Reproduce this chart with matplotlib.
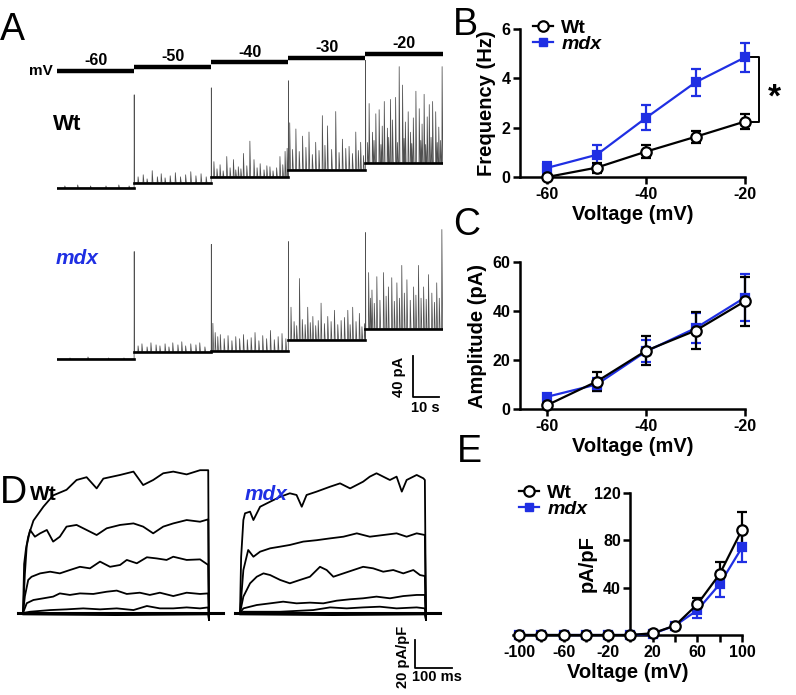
import matplotlib
matplotlib.use('Agg')
import matplotlib.pyplot as plt
from matplotlib.lines import Line2D

plt.rcParams['font.family'] = ['Liberation Sans', 'DejaVu Sans']
plt.rcParams['font.weight'] = 'bold'
plt.rcParams['axes.labelweight'] = 'bold'
plt.rcParams['axes.unicode_minus'] = False

W, H = 796, 695
BLUE = '#1f2fe3'

### Panel B - event frequency
volt_b = [-60, -50, -40, -30, -20]
wt_freq = [0.0, 0.38, 1.03, 1.63, 2.25]
wt_freq_err = [0.05, 0.2, 0.25, 0.25, 0.3]
mdx_freq = [0.37, 0.9, 2.4, 3.84, 4.85]
mdx_freq_err = [0.25, 0.4, 0.5, 0.55, 0.6]

### Panel C - event amplitude
wt_amp = [1.6, 11.2, 23.8, 32.0, 44.0]
wt_amp_err = [1.0, 3.7, 6.0, 7.7, 10.0]
mdx_amp = [5.0, 10.0, 23.5, 33.0, 45.5]
mdx_amp_err = [1.0, 2.5, 4.5, 6.0, 9.5]

### Panel E - current density
volt_e = [-100, -80, -60, -40, -20, 0, 20, 40, 60, 80, 100]
wt_dens = [0, 0, 0, 0, 0, 0, 1.5, 8, 26, 51.5, 89]
wt_dens_err = [0, 0, 0, 0, 0, 0, 0.5, 1.5, 5.5, 10.5, 15]
mdx_dens = [0, 0, 0, 0, 0, 0, 1, 8, 21, 43, 74]
mdx_dens_err = [0, 0, 0, 0, 0, 0, 0.5, 1.5, 6.5, 10.5, 12]

### Panel A - holding steps and recorded currents (s, pA)
cmd_mv = [-60, -50, -40, -30, -20]
seg_len = 30
wt_base = [0, 4.9, 10.7, 17.6, 24.4]
wt_trans = [0, 86, 87, 87, 100]
wt_spk_t = [
    [3, 8, 13, 19, 24, 28],
    [1.5, 3.5, 5, 7, 9, 10.5, 12, 14, 16, 18, 20, 22, 24, 26, 28],
    [1.0, 2.2, 3.4, 4.6, 6.0, 7.3, 8.6, 9.5, 10.5, 11.5, 12.5, 13.8, 15.0, 16.6,
     17.8, 19.0, 20.5, 21.6, 22.8, 24.0, 25.4, 26.7, 27.8, 28.7, 29.5],
    [0.5, 1.6, 2.9, 4.2, 5.5, 6.8, 8.0, 9.3, 10.6, 11.9, 13.2, 14.2, 15.2, 16.8,
     18.4, 19.7, 21.0, 22.3, 23.6, 24.9, 26.2, 27.2, 28.1, 29.2],
    [0.8, 1.4, 2.7, 3.3, 4.0, 5.3, 6.0, 6.5, 7.3, 8.5, 9.0, 9.7, 10.5, 11.7, 12.4,
     13.1, 14.4, 15.0, 15.5, 16.6, 17.5, 18.0, 18.6, 19.6, 20.9, 21.5, 22.0, 22.8,
     23.4, 24.0, 24.8, 25.5, 26.1, 27.3, 27.9, 28.5, 29.2, 29.8],
]
wt_spk_a = [
    [2, 3, 2, 2, 3, 2],
    [6, 8, 4, 12, 6, 9, 5, 7, 10, 6, 8, 11, 7, 9, 6],
    [15, 8, 12, 6, 20, 9, 17, 7, 10, 8, 23, 11, 35, 17, 9, 13, 7, 11, 10, 6, 9,
     20, 12, 25, 28],
    [46, 20, 40, 18, 33, 22, 37, 15, 27, 19, 53, 24, 43, 20, 57, 17, 30, 21, 23,
     16, 37, 19, 27, 14],
    [20, 58, 30, 22, 48, 52, 18, 36, 60, 34, 25, 62, 42, 64, 20, 94, 76, 24, 40,
     50, 30, 19, 44, 70, 53, 22, 38, 67, 18, 45, 57, 25, 60, 50, 20, 35, 22, 94],
]
mdx_base = [0, 6.8, 7.8, 18.5, 29.3]
mdx_trans = [0, 98, 104, 96, 94]
mdx_spk_t = [
    [5, 12, 20, 26],
    [1.5, 3, 5, 6.5, 8.5, 10, 12, 13.5, 15, 17, 18.5, 20, 22, 24, 25.5, 27.5],
    [0.6, 1.5, 2.5, 3.5, 5, 6.5, 8, 9.5, 11, 12.5, 14, 15.5, 17, 18.5, 20, 21.5,
     23, 24.5, 26, 27.5, 29],
    [1.0, 2.2, 3.2, 4.3, 5.4, 6.5, 7.5, 8.5, 9.5, 10.6, 11.6, 12.7, 14.0, 15.3,
     16.6, 17.9, 19.2, 20.5, 21.8, 23.1, 24.0, 25.0, 26.3, 27.6, 28.6, 29.6],
    [1.2, 1.9, 2.5, 3.4, 4.4, 5.6, 7.0, 8.0, 8.9, 10.2, 11.2, 12.2, 13.2, 14.1,
     15.1, 16.1, 17.4, 18.7, 19.6, 20.6, 21.6, 22.6, 23.6, 24.5, 25.8, 26.8, 27.7,
     28.7, 29.7],
]
mdx_spk_a = [
    [1, 2, 1, 1],
    [6, 8, 5, 9, 7, 6, 8, 5, 9, 7, 10, 6, 8, 7, 9, 5],
    [27, 18, 14, 16, 12, 15, 10, 14, 12, 16, 11, 13, 18, 10, 15, 12, 20, 11, 14,
     17, 12],
    [32, 18, 14, 60, 20, 15, 32, 17, 23, 14, 19, 36, 16, 23, 18, 29, 15, 19, 22,
     29, 15, 32, 18, 26, 13, 16],
    [55, 30, 38, 25, 51, 28, 55, 32, 41, 50, 27, 45, 30, 62, 35, 48, 28, 41, 33,
     62, 30, 41, 29, 53, 35, 26, 45, 30, 97],
]

### Panel D - whole-cell current families (ms, pA/pF)
wt_fam_t = [
    [0, 3, 8, 14, 28, 55, 81, 117, 144, 171, 198, 216, 261, 297, 323, 350, 377, 404, 440, 476, 498],
    [0, 5, 10, 19, 32, 46, 64, 81, 99, 117, 144, 171, 198, 225, 261, 297, 323, 350, 377, 404, 440, 476, 498],
    [0, 5, 14, 23, 46, 73, 99, 126, 153, 180, 207, 234, 261, 279, 306, 333, 359, 386, 404, 440, 476, 498],
    [0, 10, 28, 55, 81, 99, 126, 153, 189, 225, 252, 279, 314, 341, 368, 404, 440, 476, 498],
    [0, 19, 73, 117, 162, 207, 252, 297, 333, 368, 404, 440, 476, 498],
    [0, 250, 498],
]
wt_fam_i = [
    [0, 35, 46, 54.5, 66, 76, 84, 88, 95, 97, 89, 96, 98.6, 101, 91.4, 95, 99.8, 101, 99, 102, 102],
    [0, 28, 48, 59.3, 54.5, 56.9, 59.3, 51, 54.5, 61.7, 62.9, 59.3, 55.7, 60.5, 62.9, 64, 61.7, 56.9, 61.7, 64, 66.4, 65.2, 66.9],
    [0, 12, 23.6, 25.9, 28.3, 29.5, 28.3, 30.7, 33, 31.9, 36.7, 33, 34.3, 37.9, 35.5, 39.8, 39, 37.9, 40.2, 37.9, 38.3, 34.3],
    [0, 7, 9.3, 10.5, 11.7, 14, 12.9, 14, 13.6, 15.2, 16, 13.6, 14.5, 12.9, 14.5, 12.1, 14.5, 13.6, 14],
    [0, 0.9, 2.1, 2.6, 3.3, 2.6, 3.3, 2.1, 5, 3.3, 3.3, 4, 3.3, 4],
    [-1, -1.5, -1],
]
mdx_fam_t = [
    [0, 3, 9, 13.4, 27, 36, 54, 81, 108, 134, 152, 166, 179, 206, 242, 269, 296, 331, 349, 367, 385, 403, 421, 435, 448, 475, 493, 497],
    [0, 9, 22, 36, 54, 81, 108, 134, 170, 206, 242, 278, 314, 349, 385, 421, 448, 475, 497],
    [0, 9, 27, 45, 63, 81, 108, 134, 161, 188, 215, 233, 251, 278, 305, 331, 358, 385, 412, 439, 466, 484, 497],
    [0, 9, 45, 81, 116, 152, 188, 224, 260, 296, 331, 367, 403, 439, 475, 497],
    [0, 9, 108, 197, 242, 287, 331, 376, 421, 475, 497],
    [0, 250, 497],
]
mdx_fam_i = [
    [0, 40, 66.4, 71.2, 72.4, 66.4, 75.9, 79.5, 83, 85.5, 84.3, 75.9, 84.3, 86.7, 90.2, 92.6, 89, 93.8, 97.4, 99.8, 97.4, 95, 97.4, 86.7, 95, 98.6, 96.2, 95],
    [0, 30.7, 45, 40.2, 43.8, 46.2, 47.4, 48.6, 51, 52, 53.3, 54.5, 56.9, 54.5, 55.7, 56.9, 54.5, 56.9, 55.7],
    [0, 11.7, 21.2, 25.9, 28.3, 27.1, 23.6, 21.2, 23.6, 25.9, 33, 30.7, 25.9, 28.3, 30.7, 33, 31.9, 29.5, 30.7, 28.3, 30.7, 27.1, 26.4],
    [0, 3.3, 5.7, 6.9, 8.1, 6.9, 7.4, 6.9, 8.8, 9.8, 10.5, 11.7, 10.5, 12.1, 12.9, 12.9],
    [0, 0.9, 0.9, 2.1, 4, 3.3, 4, 4.5, 3.3, 4, 3.3],
    [-1, -1.5, -1],
]
pulse_end = 500

fig = plt.figure(figsize=(W / 100, H / 100), dpi=100)


def box(x0, y0, x1, y1):
    # pixel box (top-left origin) -> figure fraction rect
    return [x0 / W, 1 - y1 / H, (x1 - x0) / W, (y1 - y0) / H]


def ftext(x, y, s, **kw):
    fig.text(x / W, 1 - y / H, s, **kw)


def prism(ax):
    ax.spines[['top', 'right']].set_visible(False)
    for s in ['left', 'bottom']:
        ax.spines[s].set_linewidth(1.8)
    ax.tick_params(width=1.8, length=5, labelsize=11.5, pad=2)
    ax.patch.set_alpha(0)


def series(ax, x, y, err, color, marker, mfc, ms):
    c = ax.errorbar(x, y, yerr=err, color=color, marker=marker, mfc=mfc,
                    mec=color, ms=ms, mew=1.6, lw=1.6, elinewidth=1.6,
                    capsize=3.5, capthick=1.6, zorder=3)
    for a in c.get_children():
        a.set_clip_on(False)


def legend(ax, x, y):
    h_wt = Line2D([], [], color='k', marker='o', mfc='white', ms=7.5, mew=1.6, lw=1.6)
    h_mdx = Line2D([], [], color=BLUE, marker='s', ms=6, lw=1.6)
    leg = ax.legend([h_wt, h_mdx], ['Wt', 'mdx'], loc='upper left',
                    bbox_to_anchor=(x / W, 1 - y / H), bbox_transform=fig.transFigure,
                    frameon=False, fontsize=14, handlelength=1.05, handletextpad=0.4,
                    borderpad=0, borderaxespad=0, labelspacing=-0.05)
    leg.get_texts()[1].set_style('italic')


def build_trace(base, trans, spk_t, spk_a):
    xs, ys = [], []
    for i in range(len(base)):
        t0 = i * seg_len
        b = base[i]
        xs += [t0]
        ys += [b]
        if trans[i] > 0:
            xs += [t0 + 0.05, t0 + 0.15]
            ys += [b + trans[i], b]
        for t, a in sorted(zip(spk_t[i], spk_a[i])):
            xs += [t0 + t - 0.05, t0 + t + 0.05, t0 + t + 0.35]
            ys += [b, b + a, b]
        xs += [t0 + seg_len]
        ys += [b]
    return xs, ys


### Panel A
ax_cmd = fig.add_axes(box(57, 51.7, 442.5, 77.5))
ax_cmd.set_xlim(0, 150)
ax_cmd.set_ylim(-75, -15)
ax_cmd.axis('off')
for i, mv in enumerate(cmd_mv):
    t0, t1 = i * seg_len, (i + 1) * seg_len
    ax_cmd.plot([t0, t1], [mv, mv], color='k', lw=3.2, solid_capstyle='butt', clip_on=False)
    ax_cmd.annotate(str(mv), ((t0 + t1) / 2, mv), xytext=(0, 2), textcoords='offset points',
                    ha='center', va='bottom', fontsize=11.5)
ax_cmd.annotate('mV', (0, cmd_mv[0]), xytext=(-3, 0), textcoords='offset points',
                ha='right', va='center', fontsize=11)

for base, trans, st, sa, yb in [(wt_base, wt_trans, wt_spk_t, wt_spk_a, 188),
                                (mdx_base, mdx_trans, mdx_spk_t, mdx_spk_a, 359)]:
    ax = fig.add_axes(box(57, yb - 153.75, 442.5, yb + 10.25))
    ax.set_xlim(0, 150)
    ax.set_ylim(-10, 150)
    ax.axis('off')
    xs, ys = build_trace(base, trans, st, sa)
    ax.plot(xs, ys, color='#505050', lw=0.55)
    for i, b in enumerate(base):
        ax.plot([i * seg_len, (i + 1) * seg_len], [b, b], color='k', lw=1.9)
ax_mdx_a = ax
ax_mdx_a.plot([138.5, 138.5, 148.5], [3, -37, -37], color='k', lw=1.3, clip_on=False)
ax_mdx_a.text(133, -17, '40 pA', rotation=90, ha='center', va='center', fontsize=10.5)
ax_mdx_a.text(143.5, -48, '10 s', ha='center', va='center', fontsize=10.5)

ftext(53, 130, 'Wt', fontsize=16)
ftext(56, 264, 'mdx', fontsize=15, style='italic', color=BLUE)

### Panel B
ax_b = fig.add_axes(box(520, 29, 745, 177))
prism(ax_b)
series(ax_b, volt_b, mdx_freq, mdx_freq_err, BLUE, 's', BLUE, 6)
series(ax_b, volt_b, wt_freq, wt_freq_err, 'k', 'o', 'white', 7.5)
ax_b.set_xlim(-65.5, -20)
ax_b.set_ylim(0, 6)
ax_b.set_xticks([-60, -40, -20])
ax_b.set_yticks([0, 2, 4, 6])
ax_b.set_xlabel('Voltage (mV)', fontsize=14.5, labelpad=2)
ax_b.set_ylabel('Frequency (Hz)', fontsize=14.5, labelpad=4)
ax_b.plot([-18.7, -17.2, -17.2, -18.7], [mdx_freq[-1], mdx_freq[-1], wt_freq[-1], wt_freq[-1]],
          color='k', lw=1.4, clip_on=False)
ax_b.text(-14.0, (mdx_freq[-1] + wt_freq[-1]) / 2 - 0.35, '*', ha='center', va='center', fontsize=24)
legend(ax_b, 533, 19)

### Panel C
ax_c = fig.add_axes(box(520, 262, 745, 409))
prism(ax_c)
series(ax_c, volt_b, mdx_amp, mdx_amp_err, BLUE, 's', BLUE, 6)
series(ax_c, volt_b, wt_amp, wt_amp_err, 'k', 'o', 'white', 7.5)
ax_c.set_xlim(-65.5, -20)
ax_c.set_ylim(0, 60)
ax_c.set_xticks([-60, -40, -20])
ax_c.set_yticks([0, 20, 40, 60])
ax_c.set_xlabel('Voltage (mV)', fontsize=14.5, labelpad=2)
ax_c.set_ylabel('Amplitude (pA)', fontsize=14.5, labelpad=4)

### Panel D
for fam_t, fam_i, x0 in [(wt_fam_t, wt_fam_i, 10), (mdx_fam_t, mdx_fam_i, 227)]:
    ax = fig.add_axes(box(x0, 464.6, x0 + 219.8, 629.8))
    ax.set_xlim(-35, 556)
    ax.set_ylim(-12, 106)
    ax.axis('off')
    for t, cur in zip(fam_t, fam_i):
        ax.plot([-13] + t + [pulse_end, pulse_end, 537], [0] + cur + [-5, 0, 0],
                color='k', lw=1.3)
    ax.plot([-13, 537], [0, 0], color='k', lw=2.2)
ax_dm = ax
ax_dm.plot([470, 470, 570], [-19.3, -39.3, -39.3], color='k', lw=1.3, clip_on=False)
ax_dm.text(438, -31.4, '20 pA/pF', rotation=90, ha='center', va='center', fontsize=10.5)
ax_dm.text(530, -46, '100 ms', ha='center', va='center', fontsize=10.5)
ftext(30, 500, 'Wt', fontsize=15)
ftext(245, 500, 'mdx', fontsize=15, style='italic', color=BLUE)

### Panel E
ax_e = fig.add_axes(box(513.4, 493, 742, 635))
prism(ax_e)
ax_e.spines['left'].set_position(('data', 0))
series(ax_e, volt_e, mdx_dens, mdx_dens_err, BLUE, 's', BLUE, 6)
series(ax_e, volt_e, wt_dens, wt_dens_err, 'k', 'o', 'white', 7.5)
ax_e.set_xlim(-105, 100)
ax_e.set_ylim(0, 120)
ax_e.set_xticks([-100, -60, -20, 20, 60, 100])
ax_e.set_xticks([-80, -40, 0, 40, 80], minor=True)
ax_e.tick_params(which='minor', width=1.8, length=5)
ax_e.set_yticks([40, 80, 120])
ax_e.set_xlabel('Voltage (mV)', fontsize=14.5, labelpad=2)
ax_e.set_ylabel('pA/pF', fontsize=14.5)
ax_e.yaxis.set_label_coords(0.365, 0.5)
legend(ax_e, 519, 484)

### Panel letters
for s, x, y in [('A', 0, 40), ('B', 453, 35), ('C', 453, 235), ('D', 0, 503), ('E', 457, 462)]:
    ftext(x, y, s, fontsize=27, fontweight='normal')

fig.savefig('out.png', dpi=100)
